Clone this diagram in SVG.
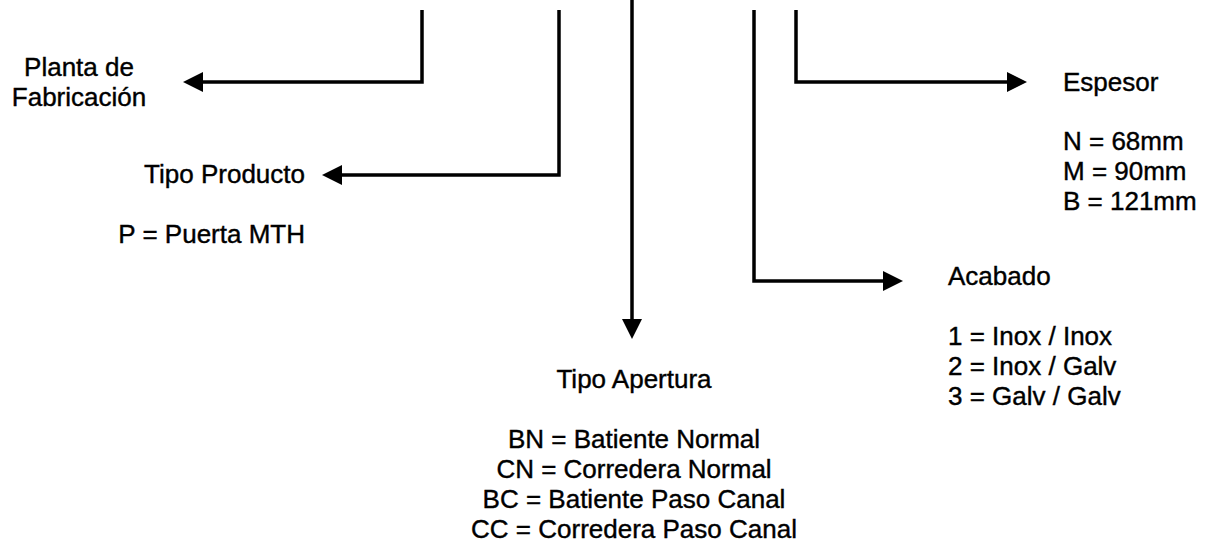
<svg xmlns="http://www.w3.org/2000/svg" width="1214" height="545" viewBox="0 0 1214 545">
  <style>
    text { font-family: "Liberation Sans", Arial, sans-serif; font-size: 26px; fill: #000; stroke: #000; stroke-width: 0.4; }
    .c { text-anchor: middle; }
    .r { text-anchor: end; }
    .conn { fill: none; stroke: #000; stroke-width: 3.5; stroke-linejoin: miter; stroke-linecap: butt; }
  </style>
  <defs>
    <marker id="arrow" viewBox="0 0 20 20" markerWidth="20" markerHeight="20" refX="0" refY="10" orient="auto" markerUnits="userSpaceOnUse">
      <path d="M0,0 L20,10 L0,20 z" fill="#000"/>
    </marker>
  </defs>
  <rect width="1214" height="545" fill="#fff"/>
  <g id="connectors">
    <path class="conn" d="M422,10 V82 H203" marker-end="url(#arrow)"/>
    <path class="conn" d="M559,10 V175 H342" marker-end="url(#arrow)"/>
    <path class="conn" d="M632,0 V319" marker-end="url(#arrow)"/>
    <path class="conn" d="M754,10 V281 H883" marker-end="url(#arrow)"/>
    <path class="conn" d="M796,10 V82 H1007" marker-end="url(#arrow)"/>
  </g>
  <g id="planta">
    <text class="c" x="79" y="76">Planta de</text>
    <text class="c" x="79" y="106">Fabricación</text>
  </g>
  <g id="tipo-producto">
    <text class="r" x="305" y="183">Tipo Producto</text>
    <text class="r" x="305" y="243">P = Puerta MTH</text>
  </g>
  <g id="tipo-apertura">
    <text class="c" x="634" y="388">Tipo Apertura</text>
    <text class="c" x="634" y="448">BN = Batiente Normal</text>
    <text class="c" x="634" y="478">CN = Corredera Normal</text>
    <text class="c" x="634" y="508">BC = Batiente Paso Canal</text>
    <text class="c" x="634" y="538">CC = Corredera Paso Canal</text>
  </g>
  <g id="acabado">
    <text x="948" y="285">Acabado</text>
    <text x="948" y="345">1 = Inox / Inox</text>
    <text x="948" y="375">2 = Inox / Galv</text>
    <text x="948" y="405">3 = Galv / Galv</text>
  </g>
  <g id="espesor">
    <text x="1063" y="91">Espesor</text>
    <text x="1063" y="150">N = 68mm</text>
    <text x="1063" y="180">M = 90mm</text>
    <text x="1063" y="210">B = 121mm</text>
  </g>
</svg>
